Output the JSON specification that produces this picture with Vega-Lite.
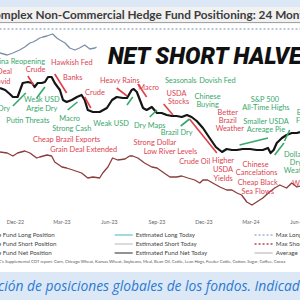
{
  "$schema": "https://vega.github.io/schema/vega-lite/v6.json",
  "width": 300,
  "height": 300,
  "autosize": {"type": "none"},
  "padding": 0,
  "background": "white",
  "config": {"view": {"stroke": null}},
  "datasets": {
    "series": [
      {"s":"net","date":"2022-11-02","v":310},{"s":"net","date":"2022-11-12","v":300},{"s":"net","date":"2022-11-21","v":280},{"s":"net","date":"2022-11-27","v":265},{"s":"net","date":"2022-12-06","v":265},{"s":"net","date":"2022-12-16","v":335},{"s":"net","date":"2022-12-26","v":340},{"s":"net","date":"2023-01-03","v":335},{"s":"net","date":"2023-01-08","v":315},{"s":"net","date":"2023-01-14","v":335},{"s":"net","date":"2023-01-22","v":335},{"s":"net","date":"2023-01-28","v":340},{"s":"net","date":"2023-02-03","v":365},{"s":"net","date":"2023-02-10","v":365},{"s":"net","date":"2023-02-16","v":335},{"s":"net","date":"2023-02-26","v":300},{"s":"net","date":"2023-03-04","v":250},{"s":"net","date":"2023-03-11","v":240},{"s":"net","date":"2023-03-21","v":250},{"s":"net","date":"2023-03-31","v":265},{"s":"net","date":"2023-04-09","v":275},{"s":"net","date":"2023-04-15","v":250},{"s":"net","date":"2023-04-21","v":200},{"s":"net","date":"2023-05-01","v":190},{"s":"net","date":"2023-05-14","v":190},{"s":"net","date":"2023-05-28","v":210},{"s":"net","date":"2023-06-07","v":250},{"s":"net","date":"2023-06-16","v":265},{"s":"net","date":"2023-06-28","v":260},{"s":"net","date":"2023-07-06","v":260},{"s":"net","date":"2023-07-15","v":300},{"s":"net","date":"2023-07-19","v":305},{"s":"net","date":"2023-07-25","v":290},{"s":"net","date":"2023-07-31","v":250},{"s":"net","date":"2023-08-06","v":210},{"s":"net","date":"2023-08-13","v":200},{"s":"net","date":"2023-08-23","v":215},{"s":"net","date":"2023-09-02","v":185},{"s":"net","date":"2023-09-11","v":185},{"s":"net","date":"2023-09-21","v":175},{"s":"net","date":"2023-10-01","v":170},{"s":"net","date":"2023-10-10","v":170},{"s":"net","date":"2023-10-20","v":165},{"s":"net","date":"2023-10-30","v":175},{"s":"net","date":"2023-11-08","v":165},{"s":"net","date":"2023-11-18","v":145},{"s":"net","date":"2023-11-30","v":110},{"s":"net","date":"2023-12-13","v":60},{"s":"net","date":"2023-12-25","v":15},{"s":"net","date":"2024-01-06","v":-10},{"s":"net","date":"2024-01-15","v":5},{"s":"net","date":"2024-01-25","v":0},{"s":"net","date":"2024-02-04","v":0},{"s":"net","date":"2024-02-15","v":5},{"s":"net","date":"2024-02-29","v":5},{"s":"net","date":"2024-03-13","v":0},{"s":"net","date":"2024-03-25","v":0},{"s":"net","date":"2024-04-04","v":10},{"s":"net","date":"2024-04-09","v":-15},{"s":"net","date":"2024-04-15","v":0},{"s":"net","date":"2024-04-21","v":35},{"s":"net","date":"2024-05-01","v":60},{"s":"net","date":"2024-05-10","v":75},{"s":"net","date":"2024-05-20","v":85},{"s":"net","date":"2024-05-30","v":85},{"s":"net","date":"2024-06-05","v":90},
      {"s":"long","date":"2022-11-02","v":485},{"s":"long","date":"2022-11-16","v":475},{"s":"long","date":"2022-11-27","v":485},{"s":"long","date":"2022-12-10","v":500},{"s":"long","date":"2022-12-20","v":515},{"s":"long","date":"2022-12-30","v":535},{"s":"long","date":"2023-01-05","v":540},{"s":"long","date":"2023-01-12","v":550},{"s":"long","date":"2023-01-18","v":560},{"s":"long","date":"2023-01-24","v":565},{"s":"long","date":"2023-02-01","v":570},{"s":"long","date":"2023-02-06","v":575},{"s":"long","date":"2023-02-12","v":580},{"s":"long","date":"2023-02-20","v":560},{"s":"long","date":"2023-02-26","v":550},{"s":"long","date":"2023-03-08","v":535},{"s":"long","date":"2023-03-17","v":510},{"s":"long","date":"2023-03-27","v":500},{"s":"long","date":"2023-04-05","v":510},{"s":"long","date":"2023-04-15","v":525},{"s":"long","date":"2023-04-25","v":505},{"s":"long","date":"2023-05-05","v":510},{"s":"long","date":"2023-05-08","v":515},
      {"s":"short","date":"2022-11-02","v":-10},{"s":"short","date":"2022-11-16","v":-15},{"s":"short","date":"2022-11-27","v":-30},{"s":"short","date":"2022-12-06","v":-15},{"s":"short","date":"2022-12-20","v":-5},{"s":"short","date":"2022-12-30","v":-15},{"s":"short","date":"2023-01-12","v":-40},{"s":"short","date":"2023-01-18","v":-35},{"s":"short","date":"2023-02-01","v":-25},{"s":"short","date":"2023-02-10","v":-30},{"s":"short","date":"2023-02-16","v":-60},{"s":"short","date":"2023-03-02","v":-85},{"s":"short","date":"2023-03-11","v":-90},{"s":"short","date":"2023-03-23","v":-100},{"s":"short","date":"2023-04-09","v":-115},{"s":"short","date":"2023-04-21","v":-140},{"s":"short","date":"2023-05-01","v":-135},{"s":"short","date":"2023-05-14","v":-140},{"s":"short","date":"2023-05-20","v":-115},{"s":"short","date":"2023-05-30","v":-85},{"s":"short","date":"2023-06-08","v":-40},{"s":"short","date":"2023-06-18","v":-50},{"s":"short","date":"2023-07-02","v":-45},{"s":"short","date":"2023-07-11","v":-30},{"s":"short","date":"2023-07-17","v":-30},{"s":"short","date":"2023-07-27","v":-40},{"s":"short","date":"2023-08-09","v":-65},{"s":"short","date":"2023-08-23","v":-85},{"s":"short","date":"2023-09-02","v":-90},{"s":"short","date":"2023-09-13","v":-110},{"s":"short","date":"2023-09-27","v":-135},{"s":"short","date":"2023-10-10","v":-135},{"s":"short","date":"2023-10-20","v":-130},{"s":"short","date":"2023-11-01","v":-140},{"s":"short","date":"2023-11-14","v":-150},{"s":"short","date":"2023-11-24","v":-165},{"s":"short","date":"2023-11-30","v":-150},{"s":"short","date":"2023-12-09","v":-150},{"s":"short","date":"2023-12-19","v":-165},{"s":"short","date":"2024-01-02","v":-185},{"s":"short","date":"2024-01-15","v":-200},{"s":"short","date":"2024-01-25","v":-200},{"s":"short","date":"2024-02-04","v":-215},{"s":"short","date":"2024-02-13","v":-225},{"s":"short","date":"2024-02-23","v":-260},{"s":"short","date":"2024-03-04","v":-275},{"s":"short","date":"2024-03-13","v":-260},{"s":"short","date":"2024-03-25","v":-240},{"s":"short","date":"2024-04-07","v":-210},{"s":"short","date":"2024-04-17","v":-190},{"s":"short","date":"2024-04-27","v":-175},{"s":"short","date":"2024-05-10","v":-190},{"s":"short","date":"2024-05-20","v":-165},{"s":"short","date":"2024-05-30","v":-185},{"s":"short","date":"2024-06-05","v":-180}
    ],
    "notes": [
      {"tone":"red","text":"Hawkish Fed","date":"2023-03-21","v":435},
      {"tone":"red","text":"Grain Deal","date":"2022-10-23","v":390},
      {"tone":"red","text":"Covid","date":"2022-11-04","v":340},
      {"tone":"red","text":"Crude","date":"2023-01-10","v":400},
      {"tone":"red","text":"Banks","date":"2023-03-23","v":360},
      {"tone":"red","text":"Heavy Rains","date":"2023-06-22","v":345},
      {"tone":"red","text":"Macro","date":"2023-08-17","v":310},
      {"tone":"red","text":"Crude","date":"2023-05-05","v":285},
      {"tone":"red","text":"USDA","date":"2023-10-10","v":280},
      {"tone":"red","text":"Stocks","date":"2023-10-14","v":240},
      {"tone":"red","text":"Better","date":"2024-01-17","v":185},
      {"tone":"red","text":"Brazil","date":"2024-01-17","v":145},
      {"tone":"red","text":"Weather","date":"2024-01-21","v":105},
      {"tone":"red","text":"Cheap Brazil Exports","date":"2023-03-11","v":50},
      {"tone":"red","text":"Grain Deal Extended","date":"2023-04-13","v":0},
      {"tone":"red","text":"Strong Dollar","date":"2023-08-29","v":35},
      {"tone":"red","text":"Low River Levels","date":"2023-09-28","v":-10},
      {"tone":"red","text":"Crude Oil","date":"2023-11-14","v":-60},
      {"tone":"red","text":"Higher","date":"2024-01-08","v":-55},
      {"tone":"red","text":"USDA","date":"2024-01-08","v":-100},
      {"tone":"red","text":"Yields","date":"2024-01-08","v":-145},
      {"tone":"red","text":"Chinese","date":"2024-03-11","v":-75},
      {"tone":"red","text":"Cancelations","date":"2024-03-13","v":-115},
      {"tone":"red","text":"Cheap Black","date":"2024-03-15","v":-165},
      {"tone":"red","text":"Sea Flows","date":"2024-03-15","v":-210},
      {"tone":"red","text":"Wheat","date":"2024-06-11","v":-170},
      {"tone":"green","text":"China Reopening","date":"2022-12-06","v":440},
      {"tone":"green","text":"Dry","date":"2022-11-10","v":205},
      {"tone":"green","text":"Weak USD","date":"2023-01-22","v":250},
      {"tone":"green","text":"Argie Dry","date":"2023-01-22","v":205},
      {"tone":"green","text":"Putin Threats","date":"2022-12-26","v":145},
      {"tone":"green","text":"Macro","date":"2023-03-17","v":155},
      {"tone":"green","text":"Strong Cash","date":"2023-03-21","v":105},
      {"tone":"green","text":"Weak USD","date":"2023-06-05","v":130},
      {"tone":"green","text":"Dry Maps","date":"2023-08-19","v":120},
      {"tone":"green","text":"Brazil Dry","date":"2023-10-10","v":85},
      {"tone":"green","text":"Seasonals","date":"2023-10-18","v":345},
      {"tone":"green","text":"Dovish Fed","date":"2023-12-28","v":345},
      {"tone":"green","text":"Chinese","date":"2023-12-09","v":265},
      {"tone":"green","text":"Buying","date":"2023-12-09","v":225},
      {"tone":"green","text":"S&P 500","date":"2024-03-29","v":250},
      {"tone":"green","text":"All-Time Highs","date":"2024-03-31","v":210},
      {"tone":"green","text":"Smaller USDA","date":"2024-03-31","v":140},
      {"tone":"green","text":"Acreage Pie","date":"2024-03-31","v":100},
      {"tone":"green","text":"Brazil","date":"2024-06-16","v":185},
      {"tone":"green","text":"Floods","date":"2024-06-18","v":145},
      {"tone":"green","text":"Dollar","date":"2024-05-24","v":-25},
      {"tone":"green","text":"Dry","date":"2024-05-28","v":-65},
      {"tone":"green","text":"Weather","date":"2024-06-01","v":-105}
    ],
    "arrows": [
      {"tone":"red","date":"2022-12-26","v":370,"date2":"2023-01-06","v2":325},
      {"tone":"red","date":"2023-02-16","v":380,"date2":"2023-03-11","v2":285},
      {"tone":"red","date":"2023-04-15","v":265,"date2":"2023-04-27","v2":210},
      {"tone":"red","date":"2023-06-16","v":310,"date2":"2023-07-06","v2":270},
      {"tone":"red","date":"2023-07-27","v":330,"date2":"2023-08-13","v2":265},
      {"tone":"red","date":"2023-09-15","v":230,"date2":"2023-10-03","v2":175},
      {"tone":"red","date":"2023-11-04","v":155,"date2":"2023-12-27","v2":-15},
      {"tone":"green","date":"2022-11-27","v":220,"date2":"2022-12-22","v2":285},
      {"tone":"green","date":"2023-01-12","v":260,"date2":"2023-01-28","v2":315},
      {"tone":"green","date":"2023-03-13","v":200,"date2":"2023-04-01","v2":240},
      {"tone":"green","date":"2023-07-06","v":225,"date2":"2023-07-17","v2":265},
      {"tone":"green","date":"2023-08-19","v":165,"date2":"2023-09-02","v2":200},
      {"tone":"green","date":"2023-10-18","v":120,"date2":"2023-11-04","v2":155},
      {"tone":"green","date":"2024-02-09","v":25,"date2":"2024-04-04","v2":60},
      {"tone":"green","date":"2024-04-17","v":-25,"date2":"2024-05-05","v2":35},
      {"tone":"green","date":"2024-05-06","v":45,"date2":"2024-05-16","v2":100}
    ],
    "keys": [
      {"key":"maxLong","date":"2022-10-01","date2":"2024-07-01","v":605,"v2":605},
      {"key":"estLong","date":"2023-06-12","date2":"2023-07-17","v":-425,"v2":-425},
      {"key":"estShort","date":"2023-06-12","date2":"2023-07-17","v":-470,"v2":-470},
      {"key":"estNet","date":"2023-06-12","date2":"2023-07-17","v":-515,"v2":-515},
      {"key":"maxLong","date":"2024-03-09","date2":"2024-04-13","v":-425,"v2":-425},
      {"key":"maxShort","date":"2024-03-09","date2":"2024-04-13","v":-470,"v2":-470},
      {"key":"average","date":"2024-03-09","date2":"2024-04-13","v":-515,"v2":-515}
    ],
    "bands": [
      {"band":"banner","date":"2022-09-01","date2":"2024-08-01","v":760,"v2":715},
      {"band":"title","date":"2022-09-01","date2":"2024-08-01","v":715,"v2":637},
      {"band":"sep","date":"2022-09-01","date2":"2024-08-01","v":637,"v2":637},
      {"band":"banner","date":"2022-09-01","date2":"2024-08-01","v":-610,"v2":-760}
    ],
    "labels": [
      {"kind":"title","text":"Ag Complex Non-Commercial Hedge Fund Positioning: 24 Months","date":"2022-09-03","v":675},
      {"kind":"headline","text":"NET SHORT HALVED","date":"2023-05-30","v":465},
      {"kind":"legend","text":"Hedge Fund Long Position","date":"2022-10-01","v":-425},
      {"kind":"legend","text":"Hedge Fund Short Position","date":"2022-10-01","v":-470},
      {"kind":"legend","text":"Hedge Fund Net Position","date":"2022-10-01","v":-515},
      {"kind":"legend","text":"Estimated Long Today","date":"2023-07-23","v":-425},
      {"kind":"legend","text":"Estimated Short Today","date":"2023-07-23","v":-470},
      {"kind":"legend","text":"Estimated Fund Net Today","date":"2023-07-23","v":-515},
      {"kind":"legend","text":"Max Long","date":"2024-04-19","v":-425},
      {"kind":"legend","text":"Max Short","date":"2024-04-19","v":-470},
      {"kind":"legend","text":"Average","date":"2024-04-19","v":-515},
      {"kind":"source","text":"Source: CFTC's Supplemental COT report: Corn, Chicago Wheat, Kansas Wheat, Soybeans, Meal, Bean Oil, Cattle, Lean Hogs, Feeder Cattle, Cotton, Sugar, Coffee, Cocoa","date":"2022-09-17","v":-560},
      {"kind":"banner","text":"Evolución de posiciones globales de los fondos. Indicador","date":"2022-08-27","v":-685}
    ]
  },
  "encoding": {
    "x": {
      "field": "date", "type": "temporal",
      "scale": {"type": "utc", "nice": false,
        "domain": [{"year":2022,"month":11,"date":2,"utc":true},{"year":2024,"month":6,"date":5,"utc":true}]},
      "axis": {
        "values": [{"year":2022,"month":12,"date":1,"utc":true},{"year":2023,"month":3,"date":1,"utc":true},{"year":2023,"month":6,"date":1,"utc":true},{"year":2023,"month":9,"date":1,"utc":true},{"year":2023,"month":12,"date":1,"utc":true},{"year":2024,"month":3,"date":1,"utc":true},{"year":2024,"month":6,"date":1,"utc":true}],
        "labelExpr": "utcFormat(datum.value, '%b-%y')",
        "domain": false, "ticks": false, "grid": false, "title": null,
        "offset": -82, "labelPadding": 1, "labelFlush": false, "labelOverlap": false,
        "labelFont": "Lato", "labelFontSize": 5.3, "labelColor": "#666666"
      }
    },
    "y": {"field": "v", "type": "quantitative", "scale": {"domain": [-750, 750], "nice": false, "zero": false}, "axis": null}
  },
  "layer": [
    {"data": {"name": "bands"}, "transform": [{"filter": "datum.band == 'banner'"}],
     "mark": {"type": "rect", "color": "#dce8f6"},
     "encoding": {"x2": {"field": "date2"}, "y2": {"field": "v2"}}},
    {"data": {"name": "bands"}, "transform": [{"filter": "datum.band == 'title'"}],
     "mark": {"type": "rect", "color": "#f1f1f1"},
     "encoding": {"x2": {"field": "date2"}, "y2": {"field": "v2"}}},
    {"data": {"name": "bands"}, "transform": [{"filter": "datum.band == 'sep'"}],
     "mark": {"type": "rule", "color": "#9a9a9a", "strokeWidth": 1},
     "encoding": {"x2": {"field": "date2"}, "y2": {"field": "v2"}}},
    {"data": {"name": "keys"},
     "mark": {"type": "rule", "strokeWidth": 1.3},
     "encoding": {
       "x2": {"field": "date2"}, "y2": {"field": "v2"},
       "color": {"field": "key", "type": "nominal", "legend": null,
         "scale": {"domain": ["maxLong","estLong","estShort","estNet","maxShort","average"], "range": ["#9fb4c8","#7fd0d8","#cfcfcf","#6e6e6e","#b44a4a","#c8c8c8"]}},
       "strokeDash": {"field": "key", "type": "nominal", "legend": null,
         "scale": {"domain": ["maxLong","estLong","estShort","estNet","maxShort","average"], "range": [[2,2],[1,0],[1,0],[1,0],[2,2],[1,0]]}}
     }},
    {"data": {"name": "series"}, "transform": [{"filter": "datum.s == 'long'"}],
     "mark": {"type": "line", "color": "#7d8fa6", "strokeWidth": 1.3, "strokeJoin": "round"}, "encoding": {}},
    {"data": {"name": "series"}, "transform": [{"filter": "datum.s == 'short'"}],
     "mark": {"type": "line", "color": "#8a3d3d", "strokeWidth": 1.3, "strokeJoin": "round"}, "encoding": {}},
    {"data": {"name": "series"}, "transform": [{"filter": "datum.s == 'net'"}],
     "mark": {"type": "line", "color": "#151515", "strokeWidth": 2.2, "strokeJoin": "round"}, "encoding": {}},
    {"data": {"name": "arrows"}, "transform": [{"filter": "datum.tone == 'red'"}],
     "mark": {"type": "rule", "color": "#e0404a", "strokeWidth": 1.6},
     "encoding": {"x2": {"field": "date2"}, "y2": {"field": "v2"}}},
    {"data": {"name": "arrows"}, "transform": [{"filter": "datum.tone == 'green'"}],
     "mark": {"type": "rule", "color": "#36a86a", "strokeWidth": 1.6},
     "encoding": {"x2": {"field": "date2"}, "y2": {"field": "v2"}}},
    {"data": {"name": "notes"}, "transform": [{"filter": "datum.tone == 'red'"}],
     "mark": {"type": "text", "font": "Lato", "fontSize": 7.4, "color": "#dc4450", "align": "center", "baseline": "middle"},
     "encoding": {"text": {"field": "text"}}},
    {"data": {"name": "notes"}, "transform": [{"filter": "datum.tone == 'green'"}],
     "mark": {"type": "text", "font": "Lato", "fontSize": 7.4, "color": "#38a86c", "align": "center", "baseline": "middle"},
     "encoding": {"text": {"field": "text"}}},
    {"data": {"name": "labels"}, "transform": [{"filter": "datum.kind == 'title'"}],
     "mark": {"type": "text", "font": "Lato", "fontSize": 11.8, "fontWeight": "bold", "color": "#3c3c3c", "align": "left", "baseline": "middle"},
     "encoding": {"text": {"field": "text"}}},
    {"data": {"name": "labels"}, "transform": [{"filter": "datum.kind == 'headline'"}],
     "mark": {"type": "text", "font": "Roboto", "fontSize": 23, "fontWeight": 900, "fontStyle": "italic", "color": "#111111", "align": "left", "baseline": "middle"},
     "encoding": {"text": {"field": "text"}}},
    {"data": {"name": "labels"}, "transform": [{"filter": "datum.kind == 'legend'"}],
     "mark": {"type": "text", "font": "Lato", "fontSize": 6.2, "color": "#444444", "align": "left", "baseline": "middle"},
     "encoding": {"text": {"field": "text"}}},
    {"data": {"name": "labels"}, "transform": [{"filter": "datum.kind == 'source'"}],
     "mark": {"type": "text", "font": "Lato", "fontSize": 4.2, "color": "#555555", "align": "left", "baseline": "middle"},
     "encoding": {"text": {"field": "text"}}},
    {"data": {"name": "labels"}, "transform": [{"filter": "datum.kind == 'banner'"}],
     "mark": {"type": "text", "font": "Open Sans", "fontSize": 13.8, "fontStyle": "italic", "color": "#2a7ad4", "align": "left", "baseline": "middle"},
     "encoding": {"text": {"field": "text"}}}
  ]
}
